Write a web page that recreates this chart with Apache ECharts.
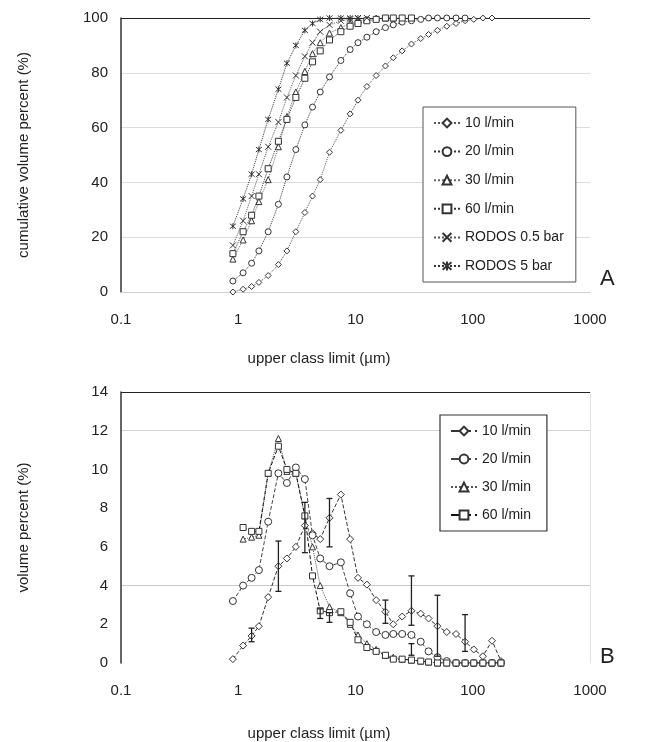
<!DOCTYPE html>
<html>
<head>
<meta charset="utf-8">
<script src="https://cdn.jsdelivr.net/npm/echarts@6/dist/echarts.min.js"></script>
<style>
html, body { margin: 0; background: #fff; }
#main { width: 647px; height: 742px; }
</style>
</head>
<body>
<div id="main"></div>
<script>
// upper class limits (µm)
var classes = [0.9, 1.1, 1.3, 1.5, 1.8, 2.2, 2.6, 3.1, 3.7, 4.3, 5.0, 6.0, 7.5, 9.0, 10.5, 12.5, 15, 18, 21, 25, 30, 36, 42, 50, 60, 72, 86, 102, 122, 146, 174];
var xTickLabels = ['0.1', '1', '10', '100', '1000'];

// A: cumulative volume percent
var cum10 = [0, 1, 2, 3.5, 6, 10, 15, 22, 29, 35, 41, 51, 59, 65, 70, 75, 79, 82.5, 85.5, 88, 90.5, 92.5, 94, 95.5, 97, 98, 99, 99.5, 100, 100];
var cum20 = [4, 7, 10.5, 15, 22, 32, 42, 52, 61, 67.5, 73, 78.5, 84.5, 88.5, 91, 93, 95, 96.5, 97.5, 98.5, 99, 99.5, 100, 100, 100, 100, 100];
var cum30 = [12, 19, 26, 33, 41, 53, 64, 73, 80.5, 87, 91, 94.5, 96.5, 98, 99, 99.5, 100, 100, 100];
var cum60 = [14, 22, 28, 35, 45, 55, 63, 71, 78, 84, 88, 92, 95, 97, 98, 99, 99.5, 100, 100, 100, 100];
var cumR05 = [17, 26, 35, 43, 53, 62, 71, 79, 86, 91, 95, 97.5, 99, 99.5, 100, 100];
var cumR5 = [24, 34, 43, 52, 63, 74, 83.5, 90, 95.5, 98, 99.5, 100, 100, 100, 100];

// B: volume percent
var vol10 = [0.2, 0.9, 1.4, 1.9, 3.4, 5.0, 5.4, 6.0, 7.1, 6.7, 6.4, 7.5, 8.7, 6.4, 4.4, 4.05, 3.25, 2.65, 2.0, 2.4, 2.7, 2.55, 2.3, 1.9, 1.6, 1.5, 1.1, 0.7, 0.35, 1.15, 0.1];
var vol20 = [3.2, 4.0, 4.4, 4.8, 7.3, 9.8, 9.3, 10.1, 9.5, 6.6, 5.4, 5.0, 5.2, 3.6, 2.4, 2.0, 1.6, 1.45, 1.5, 1.5, 1.45, 1.1, 0.6, 0.3, 0.1, 0, 0, 0, 0, 0, 0];
var vol30 = [null, 6.4, 6.5, 6.6, 9.8, 11.6, 9.9, 9.8, 7.6, 6.0, 4.0, 2.9, 2.6, 2.0, 1.45, 1.0, 0.7, 0.4, 0.3, 0.2, 0.15, 0.1, 0.05, 0, 0, 0, 0, 0, 0, 0, 0];
var vol60 = [null, 7.0, 6.8, 6.8, 9.8, 11.2, 10.0, 9.8, 7.6, 4.5, 2.7, 2.6, 2.65, 2.1, 1.2, 0.8, 0.6, 0.4, 0.2, 0.2, 0.15, 0.1, 0.05, 0, 0, 0, 0, 0, 0, 0, 0];

// error bars (B)
var errX = [1.3, 2.2, 3.7, 5.0, 6.0, 6.0, 18, 30, 30, 50, 86];
var errLow = [1.1, 3.7, 5.7, 2.3, 2.1, 6.0, 2.05, 1.95, 0.4, 0.35, 0.6];
var errHigh = [1.8, 6.3, 8.3, 2.8, 2.6, 8.5, 3.25, 4.5, 1.0, 3.5, 2.5];

function pairs(vals) {
    return vals.map(function (v, i) { return [classes[i], v]; });
}

var font = "'Liberation Sans', Arial, sans-serif";
var ink = '#222';
var symX = 'path://M0,0L10,10M10,0L0,10';
var symStar = 'path://M0,0L10,10M10,0L0,10M5,-1L5,11';

function lineSeries(name, data, grid, symbol, lineType, lineColor, size) {
    return {
        name: name,
        type: 'line',
        xAxisIndex: grid,
        yAxisIndex: grid,
        data: data,
        symbol: symbol,
        symbolSize: size || 6,
        connectNulls: false,
        showAllSymbol: true,
        lineStyle: { color: lineColor, width: 1, type: lineType },
        itemStyle: { color: '#fff', borderColor: '#333', borderWidth: 1 },
        emphasis: { disabled: true },
        z: 3
    };
}

function logLabel(v) {
    for (var i = 0; i < xTickLabels.length; i++) {
        if (Math.abs(Math.log10(v) - Math.log10(parseFloat(xTickLabels[i]))) < 1e-6) return xTickLabels[i];
    }
    return '';
}

var xAxisBase = function (grid, lineColor, gap) {
    return {
        type: 'log',
        logBase: 10,
        gridIndex: grid,
        min: 0.1,
        max: 1000,
        name: 'upper class limit (µm)',
        nameLocation: 'middle',
        nameGap: gap,
        nameTextStyle: { fontFamily: font, fontSize: 15, color: ink, padding: [0, 73, 0, 0] },
        axisLine: { show: true, lineStyle: { color: lineColor, width: 1 } },
        axisTick: { show: false },
        splitLine: { show: false },
        axisLabel: { fontFamily: font, fontSize: 15, color: ink, margin: 20, formatter: logLabel }
    };
};

var chart = echarts.init(document.getElementById('main'));

chart.setOption({
    backgroundColor: '#fff',
    animation: false,
    grid: [
        { left: 121, top: 18, width: 469, height: 274 },
        { left: 121, top: 392, width: 469, height: 273 }
    ],
    xAxis: [
        xAxisBase(0, '#cfcfcf', 59),
        xAxisBase(1, 'transparent', 63)
    ],
    yAxis: [
        {
            type: 'value', gridIndex: 0, min: 0, max: 100, interval: 20,
            name: 'cumulative volume percent (%)',
            nameLocation: 'middle', nameGap: 90,
            nameTextStyle: { fontFamily: font, fontSize: 15, color: ink },
            axisLine: { show: true, lineStyle: { color: '#333', width: 1.5 } },
            axisTick: { show: false },
            axisLabel: { fontFamily: font, fontSize: 15, color: ink, margin: 13 },
            splitLine: { show: true, lineStyle: { color: ['#cfcfcf', '#dcdcdc', '#dcdcdc', '#dcdcdc', '#dcdcdc', '#222'], width: 1 } }
        },
        {
            type: 'value', gridIndex: 1, min: 0, max: 14, interval: 2,
            name: 'volume percent (%)',
            nameLocation: 'middle', nameGap: 90,
            nameTextStyle: { fontFamily: font, fontSize: 15, color: ink },
            axisLine: { show: true, lineStyle: { color: '#333', width: 1.5 } },
            axisTick: { show: false },
            axisLabel: { fontFamily: font, fontSize: 15, color: ink, margin: 13 },
            splitLine: { show: true, lineStyle: { color: ['transparent', 'transparent', '#c8c8c8', 'transparent', 'transparent', 'transparent', '#d4d4d4', '#222'], width: 1 } }
        },
        {
            type: 'value', gridIndex: 1, min: 0, max: 14, interval: 2, position: 'right',
            axisLine: { show: true, lineStyle: { color: '#e2e2e2', width: 1 } },
            axisTick: { show: false },
            axisLabel: { show: false },
            splitLine: { show: false }
        }
    ],
    legend: [
        {
            left: 423, top: 107, orient: 'vertical',
            padding: [9, 12, 9, 10], itemGap: 14.6, itemWidth: 26, itemHeight: 11,
            borderColor: '#555', borderWidth: 1, backgroundColor: '#fff',
            textStyle: { fontFamily: font, fontSize: 14, color: ink },
            data: ['10 l/min', '20 l/min', '30 l/min', '60 l/min', 'RODOS 0.5 bar', 'RODOS 5 bar']
        },
        {
            left: 440, top: 415, orient: 'vertical',
            padding: [9, 12, 9, 10], itemGap: 14, itemWidth: 26, itemHeight: 11,
            borderColor: '#333', borderWidth: 1.2, backgroundColor: '#fff',
            textStyle: { fontFamily: font, fontSize: 14, color: ink },
            data: ['10 l/min ', '20 l/min ', '30 l/min ', '60 l/min ']
        }
    ],
    graphic: [
        { type: 'text', left: 600, top: 268, style: { text: 'A', font: '22px ' + font, fill: ink } },
        { type: 'text', left: 600, top: 646, style: { text: 'B', font: '22px ' + font, fill: ink } }
    ],
    series: [
        lineSeries('10 l/min', pairs(cum10), 0, 'diamond', 'dotted', '#555', 6),
        lineSeries('20 l/min', pairs(cum20), 0, 'circle', 'dotted', '#333', 6),
        lineSeries('30 l/min', pairs(cum30), 0, 'triangle', 'dotted', '#666', 6),
        lineSeries('60 l/min', pairs(cum60), 0, 'rect', 'dotted', '#333', 6),
        lineSeries('RODOS 0.5 bar', pairs(cumR05), 0, symX, 'dotted', '#555', 6),
        lineSeries('RODOS 5 bar', pairs(cumR5), 0, symStar, 'dotted', '#333', 6),

        lineSeries('10 l/min ', pairs(vol10), 1, 'diamond', 'dashed', '#333', 7),
        lineSeries('20 l/min ', pairs(vol20), 1, 'circle', 'dashed', '#444', 7),
        lineSeries('30 l/min ', pairs(vol30), 1, 'triangle', 'dotted', '#555', 6),
        lineSeries('60 l/min ', pairs(vol60), 1, 'rect', 'dashed', '#111', 6),
        {
            type: 'custom',
            xAxisIndex: 1,
            yAxisIndex: 1,
            z: 4,
            data: errX.map(function (x, i) { return [x, errLow[i], errHigh[i]]; }),
            renderItem: function (params, api) {
                var lo = api.coord([api.value(0), api.value(1)]);
                var hi = api.coord([api.value(0), api.value(2)]);
                var c = 3;
                return {
                    type: 'group',
                    children: [
                        { type: 'line', shape: { x1: lo[0], y1: lo[1], x2: hi[0], y2: hi[1] }, style: { stroke: '#222', lineWidth: 1.3 } },
                        { type: 'line', shape: { x1: lo[0] - c, y1: lo[1], x2: lo[0] + c, y2: lo[1] }, style: { stroke: '#222', lineWidth: 1.3 } },
                        { type: 'line', shape: { x1: hi[0] - c, y1: hi[1], x2: hi[0] + c, y2: hi[1] }, style: { stroke: '#222', lineWidth: 1.3 } }
                    ]
                };
            }
        }
    ]
});
</script>
</body>
</html>
